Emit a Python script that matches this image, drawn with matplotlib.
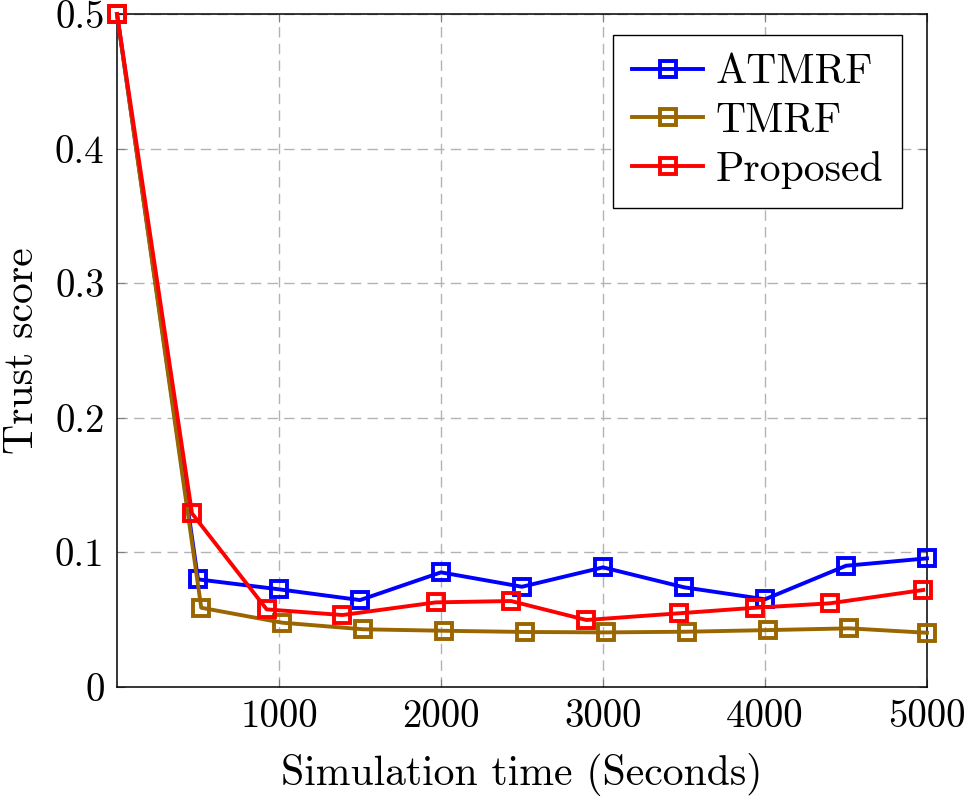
"""
Trust score over simulation time for ATMRF, TMRF and the proposed scheme.
"""

import matplotlib
matplotlib.use("Agg")
import matplotlib.pyplot as plt

plt.rcParams['font.family'] = ['cmr10', 'DejaVu Serif']
plt.rcParams['mathtext.fontset'] = 'cm'
plt.rcParams['axes.formatter.use_mathtext'] = True

# data
atmrf_x = [0, 500, 1000, 1500, 2000, 2500, 3000, 3500, 4000, 4500, 5000]
atmrf_y = [0.5, 0.080, 0.0726, 0.0646, 0.0852, 0.0745, 0.0889, 0.0741, 0.0652, 0.0901, 0.0956]

tmrf_x = [0, 520, 1020, 1520, 2020, 2520, 3020, 3520, 4020, 4520, 5000]
tmrf_y = [0.5, 0.0589, 0.0478, 0.0429, 0.0418, 0.0409, 0.0406, 0.0411, 0.0423, 0.0436, 0.0403]

prop_x = [0, 463, 924, 1391, 1969, 2432, 2897, 3471, 3938, 4401, 4977]
prop_y = [0.5, 0.1290, 0.0577, 0.0535, 0.0629, 0.0639, 0.0498, 0.0548, 0.0589, 0.0622, 0.0721]

x_ticks = [1000, 2000, 3000, 4000, 5000]
y_ticks = [0, 0.1, 0.2, 0.3, 0.4, 0.5]
y_tick_labels = ['0', '0.1', '0.2', '0.3', '0.4', '0.5']

series = [
    ('ATMRF', atmrf_x, atmrf_y, '#0000ff'),
    ('TMRF', tmrf_x, tmrf_y, '#996600'),
    ('Proposed', prop_x, prop_y, '#ff0000'),
]

fig = plt.figure(figsize=(9.67, 8.06), dpi=100)
ax = fig.add_axes([0.121, 0.1476, 0.8376, 0.835])

for name, xs, ys, col in series:
    ax.plot(xs, ys, color=col, lw=2.8, marker='s', markersize=11.5,
            markerfacecolor='none', markeredgecolor=col, markeredgewidth=2.8,
            label=name, clip_on=False, zorder=3)

ax.set_xlim(0, 5000)
ax.set_ylim(0, 0.5)
ax.set_xticks(x_ticks)
ax.set_xticklabels([str(t) for t in x_ticks])
ax.set_yticks(y_ticks)
ax.set_yticklabels(y_tick_labels)

ax.grid(True, color='#b3b3b3', lw=1.0, linestyle=(0, (7.5, 4.5)))
ax.set_axisbelow(True)
ax.tick_params(direction='in', top=True, right=True, length=6, width=0.8,
               color='#7f7f7f', labelsize=28, pad=9)
for sp in ax.spines.values():
    sp.set_linewidth(1.1)
    sp.set_color('black')

ax.set_xlabel('Simulation time (Seconds)', fontsize=30, labelpad=13)
ax.set_ylabel('Trust score', fontsize=30, labelpad=10)

leg = ax.legend(loc='upper right', fontsize=30, frameon=True, fancybox=False,
                edgecolor='black', framealpha=1, handlelength=1.7,
                handletextpad=0.3, labelspacing=0.27, borderpad=0.45,
                borderaxespad=0, bbox_to_anchor=(0.969, 0.969))
leg.get_frame().set_linewidth(1.0)

fig.savefig('out.png', dpi=100)
plt.close(fig)
